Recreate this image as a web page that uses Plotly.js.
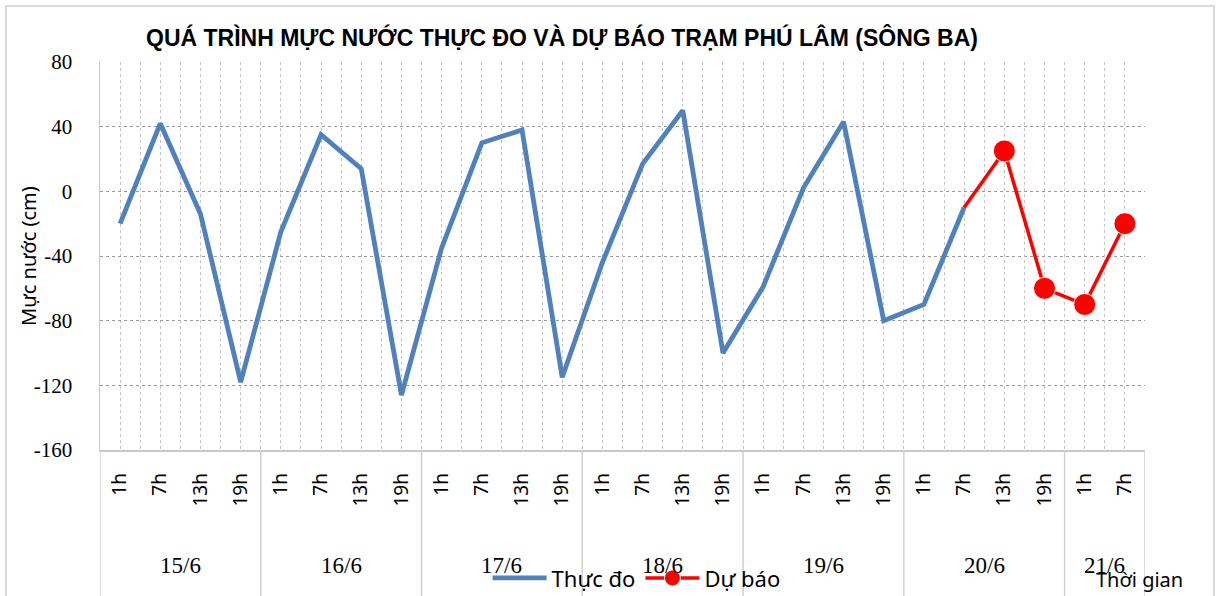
<!DOCTYPE html>
<html>
<head>
<meta charset="utf-8">
<script src="https://cdn.plot.ly/plotly-3.0.1.min.js"></script>
<style>
  html, body { margin: 0; padding: 0; background: #fff; }
  #chart { width: 1219px; height: 596px; }
  #frame { position: absolute; left: 5px; top: 5px; width: 1206px; height: 600px;
           border: 2px solid #d9d9d9; pointer-events: none; }
</style>
</head>
<body>
<div id="chart"></div>
<div id="frame"></div>
<script>
// ---- data ----
const days = ['15/6', '16/6', '17/6', '18/6', '19/6', '20/6', '21/6'];
const hoursByDay = [
  ['1h', '7h', '13h', '19h'],
  ['1h', '7h', '13h', '19h'],
  ['1h', '7h', '13h', '19h'],
  ['1h', '7h', '13h', '19h'],
  ['1h', '7h', '13h', '19h'],
  ['1h', '7h', '13h', '19h'],
  ['1h', '7h']
];
// Thực đo (observed), cm
const observed = [-20, 42, -14, -118,  -25, 35, 14, -126,  -35, 30, 38, -115,
                  -44, 17, 50, -100,  -59, 2, 43, -80,  -70, -10];
// Dự báo (forecast), cm  — starts at 20/6 7h
const forecastStart = 21;
const forecast = [-10, 25, -60, -70, -20];
const yTicks = [80, 40, 0, -40, -80, -120, -160];

// ---- derived categories ----
const keys = [], hourText = [], groups = [];
days.forEach((d, i) => {
  const start = keys.length;
  hoursByDay[i].forEach(h => { keys.push(d + ' ' + h); hourText.push(h); });
  groups.push({ day: d, start: start, end: keys.length - 1 });
});

const obsX = keys.slice(0, observed.length);
const fcX = keys.slice(forecastStart, forecastStart + forecast.length);
const fcSizes = forecast.map((v, i) => (forecastStart + i < observed.length ? 0 : 22));

const traces = [
  {
    x: obsX, y: observed, type: 'scatter', mode: 'lines', name: 'Thực đo',
    line: { color: '#4f81bd', width: 4.8 }
  },
  {
    x: fcX, y: forecast, type: 'scatter', mode: 'lines+markers', name: 'Dự báo',
    line: { color: '#ff0000', width: 3.5 },
    marker: { color: '#ff0000', size: fcSizes, opacity: 1 }
  },
  { x: [], y: [], xaxis: 'x2', yaxis: 'y', type: 'scatter', showlegend: false, hoverinfo: 'skip' }
];

const annotations = groups.map(g => ({
  text: g.day, xref: 'x', yref: 'paper', x: (g.start + g.end) / 2, y: -0.297,
  xanchor: 'center', yanchor: 'middle', showarrow: false,
  font: { family: 'Liberation Serif', size: 23, color: '#000' }
}));
annotations.push({
  text: 'Mực nước (cm)', xref: 'paper', yref: 'paper', x: -0.069, y: 0.5,
  textangle: -90, xanchor: 'center', yanchor: 'middle', showarrow: false,
  font: { family: 'Noto Sans', size: 20, color: '#000' }
});
annotations.push({
  text: 'Thời gian', xref: 'paper', yref: 'paper', x: 0.995, y: -0.335,
  xanchor: 'center', yanchor: 'middle', showarrow: false,
  font: { family: 'Noto Sans', size: 20, color: '#000' }
});

const shapes = groups.map(g => ({
  type: 'line', xref: 'x', yref: 'paper', x0: g.start - 0.5, x1: g.start - 0.5,
  y0: 0, y1: -0.45, line: { color: '#d0d0d0', width: 1.5 }
}));
shapes.push({
  type: 'line', xref: 'x', yref: 'paper', x0: keys.length - 0.5, x1: keys.length - 0.5,
  y0: 0, y1: -0.45, line: { color: '#d0d0d0', width: 1.5 }
});

const layout = {
  width: 1219, height: 596,
  margin: { l: 100, r: 74, t: 62, b: 146 },
  paper_bgcolor: '#ffffff', plot_bgcolor: '#ffffff',
  title: {
    text: '<b>QUÁ TRÌNH MỰC NƯỚC THỰC ĐO VÀ DỰ BÁO TRẠM PHÚ LÂM (SÔNG BA)</b>',
    xref: 'container', yref: 'container', x: 0.461, y: 0.936,
    xanchor: 'center', yanchor: 'middle',
    font: { family: 'Liberation Sans', size: 23, color: '#000' }
  },
  showlegend: true,
  legend: {
    orientation: 'h', xref: 'container', yref: 'container',
    x: 0.400, xanchor: 'left', y: 0.03, yanchor: 'middle',
    bgcolor: 'rgba(0,0,0,0)', itemwidth: 54,
    font: { family: 'Noto Sans', size: 22, color: '#000' }
  },
  xaxis: {
    type: 'category', categoryorder: 'array', categoryarray: keys,
    tickmode: 'array', tickvals: keys, ticktext: hourText, tickangle: -90,
    range: [-0.5, keys.length - 0.5], ticks: '', ticklabelstandoff: 14,
    showgrid: true, gridcolor: '#c4c4c4', griddash: 'dot', gridwidth: 1,
    showline: true, linecolor: '#c8c8c8', linewidth: 1.5, zeroline: false,
    automargin: false,
    tickfont: { family: 'Noto Sans', size: 19, color: '#000' }
  },
  xaxis2: {
    overlaying: 'x', anchor: 'y', side: 'bottom',
    range: [-0.5, keys.length - 0.5], tickmode: 'linear', tick0: -0.5, dtick: 1,
    showticklabels: false, ticks: '', showline: false, zeroline: false,
    showgrid: true, gridcolor: '#c4c4c4', griddash: 'dot', gridwidth: 1
  },
  yaxis: {
    range: [-160, 80], tickmode: 'array', tickvals: yTicks, ticktext: yTicks.map(String),
    showgrid: true, gridcolor: '#9a9a9a', griddash: 'dot', gridwidth: 1,
    showline: true, linecolor: '#c8c8c8', linewidth: 1.5, zeroline: false,
    ticks: '', ticklabelstandoff: 22, automargin: false,
    tickfont: { family: 'Liberation Serif', size: 21, color: '#000' }
  },
  annotations: annotations,
  shapes: shapes
};

Plotly.newPlot('chart', traces, layout, { displayModeBar: false, staticPlot: true });
</script>
</body>
</html>
